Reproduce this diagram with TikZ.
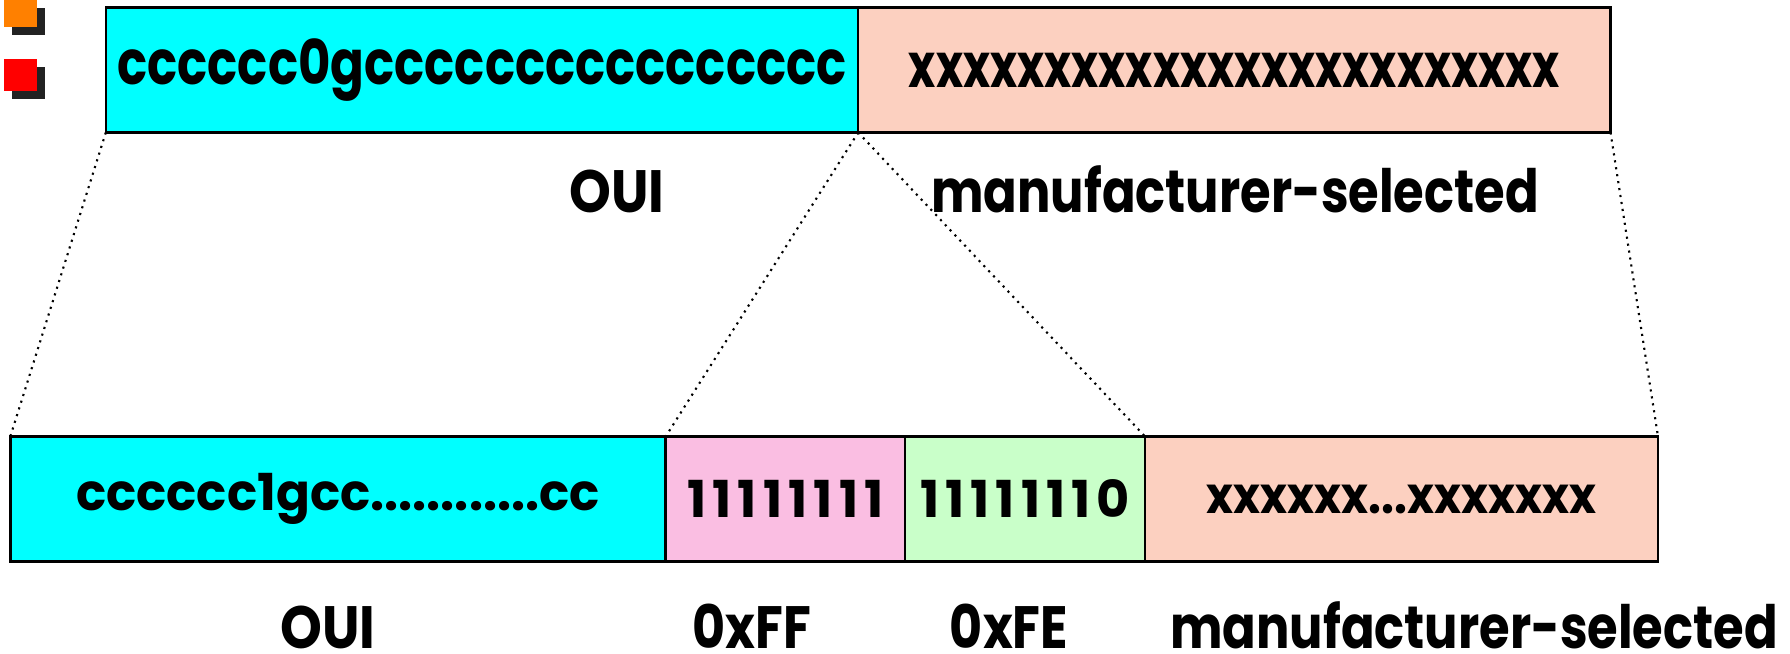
\documentclass[tikz,border=0pt]{standalone}
\usepackage{fontspec}
\setmainfont{Poppins}
\usetikzlibrary{positioning}
\definecolor{ouicyan}{RGB}{0,255,255}
\definecolor{mfrsalmon}{RGB}{252,208,192}
\definecolor{ffpink}{RGB}{250,190,226}
\definecolor{fegreen}{RGB}{201,255,201}
\definecolor{shadowgray}{RGB}{34,34,34}
\tikzset{
  field/.style={
    draw,
    line width=0.05cm,
    outer sep=0pt,
    inner sep=0pt,
    minimum height=2.5cm,
    font=\fontsize{29}{30}\selectfont\bfseries\addfontfeature{FakeStretch=#1}
  },
  field/.default=1,
  topfield/.style={
    field,
    minimum width=15.05cm,
    font=\fontsize{35}{36}\selectfont\bfseries\addfontfeature{FakeStretch=#1}
  },
  bits/.style={
    field,
    font=\fontsize{29}{30}\selectfont\bfseries\addfontfeature{LetterSpace=12}
  },
  caption/.style={
    anchor=base,
    font=\fontsize{34}{36}\selectfont\bfseries\addfontfeature{FakeStretch=#1}
  },
  caption/.default=0.85,
  zoomline/.style={
    line width=1.2pt,
    dash pattern=on 1.2pt off 2.8pt
  }
}

\begin{document}
\begin{tikzpicture}[x=0.02cm,y=-0.02cm]
    \useasboundingbox (0,0) rectangle (1790,653);
    % bullets
    \fill[shadowgray] (12,8) rectangle (45,35);
    \fill[orange] (4,0) rectangle (37,27);
    \fill[shadowgray] (12,67) rectangle (45,99);
    \fill[red] (4,59) rectangle (37,91);
    % upper address
    \node[topfield=0.81, fill=ouicyan] (topoui) at (482,70) {cccccc0gcccccccccccccccc};
    \node[topfield=0.75, fill=mfrsalmon, right=0pt of topoui] (topmfr) {xxxxxxxxxxxxxxxxxxxxxxxx};
    \node[caption=0.89] (topouilabel) at (617,212) {OUI};
    \node[caption=0.83] (topmfrlabel) at (1235,212) {manufacturer-selected};
    % lower address
    \node[field=0.98, fill=ouicyan, minimum width=13.11cm] (oui) at (338,499) {cccccc1gcc............cc};
    \node[bits, fill=ffpink, minimum width=4.79cm, right=0pt of oui] (ff) {11111111};
    \node[bits, fill=fegreen, minimum width=4.8cm, right=0pt of ff] (fe) {11111110};
    \node[field=0.9, fill=mfrsalmon, minimum width=10.26cm, right=0pt of fe] (mfr) {xxxxxx...xxxxxxx};
    \node[caption=0.89] (ouilabel) at (328,648) {OUI};
    \node[caption] (fflabel) at (752,648) {0xFF};
    \node[caption] (felabel) at (1009,648) {0xFE};
    \node[caption=0.83] (mfrlabel) at (1474,648) {manufacturer-selected};
    % zoom lines
    \foreach \a/\b in {topoui.south west/oui.north west,
                       topoui.south east/ff.north west,
                       topoui.south east/fe.north east,
                       topmfr.south east/mfr.north east}
        \draw[zoomline] (\a) -- (\b);
\end{tikzpicture}
\end{document}
